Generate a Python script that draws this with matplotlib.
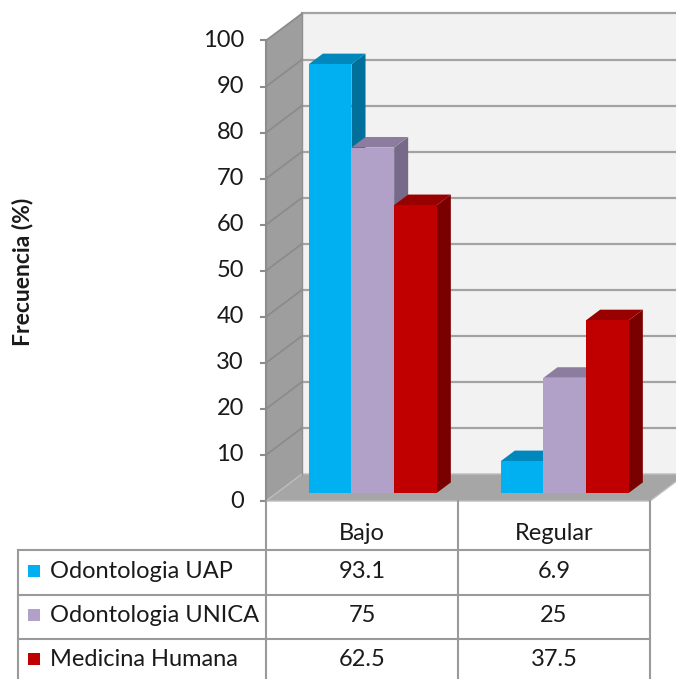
import matplotlib
matplotlib.use("Agg")
import matplotlib.pyplot as plt
from matplotlib.patches import Polygon

plt.rcParams['font.family'] = ['Lato', 'DejaVu Sans']

# ---- data ----
categories = ["Bajo", "Regular"]
series_names = ["Odontologia UAP", "Odontologia UNICA", "Medicina Humana"]
uap = [93.1, 6.9]
unica = [75, 25]
medicina = [62.5, 37.5]
yticks = [0, 10, 20, 30, 40, 50, 60, 70, 80, 90, 100]
y_label = "Frecuencia (%)"

series = [uap, unica, medicina]
front_colors = ["#00B0F0", "#B1A0C7", "#C00000"]
top_colors = ["#0088BC", "#8C7C9E", "#990000"]
side_colors = ["#006F9A", "#776A88", "#7A0000"]

# ---- oblique 3-D projection (pixel space) ----
X0, CW = 266.0, 192.0      # left edge of the category axis, width per category
Y0, S = 501.0, 4.605       # baseline pixel row, pixels per percent
DX, DY = 36.0, 27.0        # offset of the back wall
D0, D1 = 0.30, 0.69        # depth span of the bars
VMAX = 100
FS = 17

def proj(xc, v, d):
    return (X0 + xc * CW + d * DX, Y0 - v * S - d * DY)


fig = plt.figure(figsize=(6.76, 6.79), dpi=100)
ax = fig.add_axes([0, 0, 1, 1])
ax.set_xlim(0, 676)
ax.set_ylim(679, 0)
ax.axis("off")

ncat = len(categories)
grid_c = "#A3A3A3"

# back wall
ax.add_patch(Polygon([proj(0, 0, 1), proj(ncat, 0, 1), proj(ncat, VMAX, 1), proj(0, VMAX, 1)],
                     closed=True, fc="#F2F2F2", ec="none", zorder=1))
# left wall
ax.add_patch(Polygon([proj(0, 0, 0), proj(0, 0, 1), proj(0, VMAX, 1), proj(0, VMAX, 0)],
                     closed=True, fc="#9E9E9E", ec="none", zorder=1))
# floor
ax.add_patch(Polygon([proj(0, 0, 0), proj(ncat, 0, 0), proj(ncat, 0, 1), proj(0, 0, 1)],
                     closed=True, fc="#A6A6A6", ec="#BDBDBD", lw=1.0, zorder=1))

# gridlines on back and left wall
for t in yticks[1:]:
    xa, ya = proj(0, t, 1)
    xb, yb = proj(ncat, t, 1)
    ax.plot([xa, xb], [ya, yb], color=grid_c, lw=1.6, zorder=2)
    xf, yf = proj(0, t, 0)
    ax.plot([xf, xa], [yf, ya], color="#8A8A8A", lw=1.2, zorder=2)
xa, ya = proj(0, 0, 1)
xb, yb = proj(0, VMAX, 1)
ax.plot([xa, xb], [ya, yb], color="#8F8F8F", lw=1.0, zorder=2)

# value axis line, ticks and labels
xf0, yf0 = proj(0, 0, 0)
xf1, yf1 = proj(0, VMAX, 0)
ax.plot([xf0, xf1], [yf0, yf1], color="#8C8C8C", lw=1.5, zorder=3)
for t in yticks:
    x, y = proj(0, t, 0)
    ax.plot([x - 5, x], [y, y], color="#8C8C8C", lw=1.5, zorder=3)
    ax.text(x - 22, y, str(t), ha="right", va="center", fontsize=FS, color="#1A1A1A")

ax.text(23, 272, y_label, rotation=90, ha="center", va="center",
        fontsize=16.5, fontweight="bold", color="#1A1A1A")

# bars
nser = len(series)
bw = (2.0 / 3.0) / nser
for ci in range(ncat):
    start = ci + 0.5 - bw * nser / 2
    for si in range(nser):
        v = series[si][ci]
        x0 = start + si * bw
        x1 = x0 + bw
        front = [proj(x0, 0, D0), proj(x1, 0, D0), proj(x1, v, D0), proj(x0, v, D0)]
        top = [proj(x0, v, D0), proj(x1, v, D0), proj(x1, v, D1), proj(x0, v, D1)]
        side = [proj(x1, 0, D0), proj(x1, v, D0), proj(x1, v, D1), proj(x1, 0, D1)]
        z = 5 + si
        ax.add_patch(Polygon(side, closed=True, fc=side_colors[si], ec="none", zorder=z))
        ax.add_patch(Polygon(top, closed=True, fc=top_colors[si], ec="none", zorder=z))
        ax.add_patch(Polygon(front, closed=True, fc=front_colors[si], ec="none", zorder=z))

# ---- data table ----
line_c = "#9A9A9A"
col_x = [X0 + i * CW for i in range(ncat + 1)]   # 266, 458, 650
left_x = 18
head_top, head_bot = Y0, 550
row_edges = [550, 595, 639, 684]
row_text_y = [571, 615, 659]

for x in col_x:
    ax.plot([x, x], [head_top, 679], color=line_c, lw=1.5, zorder=3)
ax.plot([left_x, left_x], [head_bot, 679], color=line_c, lw=1.5, zorder=3)
for y in row_edges[:-1]:
    ax.plot([left_x, col_x[-1]], [y, y], color=line_c, lw=1.5, zorder=3)

for ci, cat in enumerate(categories):
    ax.text((col_x[ci] + col_x[ci + 1]) / 2, 534, cat, ha="center", va="center",
            fontsize=FS, color="#1A1A1A")

for si, name in enumerate(series_names):
    yc = row_text_y[si]
    ax.add_patch(Polygon([(28, yc - 6), (40, yc - 6), (40, yc + 6), (28, yc + 6)],
                         closed=True, fc=front_colors[si], ec="none", zorder=4))
    ax.text(50, yc, name, ha="left", va="center", fontsize=FS, color="#1A1A1A")
    for ci in range(ncat):
        val = series[si][ci]
        ax.text((col_x[ci] + col_x[ci + 1]) / 2, yc, f"{val:g}", ha="center", va="center",
                fontsize=FS, color="#1A1A1A")

fig.savefig("out.png", dpi=100, facecolor="white")
